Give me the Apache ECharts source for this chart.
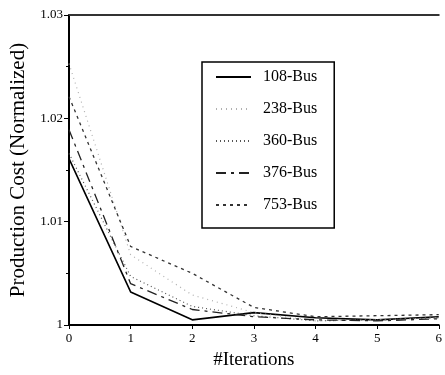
<!DOCTYPE html>
<html>
<head>
<meta charset="utf-8">
<script src="https://cdn.jsdelivr.net/npm/echarts@6/dist/echarts.min.js"></script>
<style>
  html, body { margin: 0; padding: 0; background: #fff; }
  #chart { width: 445px; height: 375px; }
</style>
</head>
<body>
<div id="chart"></div>
<script>
// values
var iterations = [0, 1, 2, 3, 4, 5, 6];
var bus108 = [1.0161, 1.0032, 1.0005, 1.0012, 1.0007, 1.0005, 1.0008];
var bus238 = [1.0253, 1.0068, 1.0029, 1.0012, 1.0004, 1.0005, 1.0007];
var bus360 = [1.0166, 1.0047, 1.0018, 1.0009, 1.0004, 1.0005, 1.0007];
var bus376 = [1.0189, 1.0040, 1.0015, 1.0008, 1.0005, 1.0004, 1.0006];
var bus753 = [1.0221, 1.0076, 1.0050, 1.0017, 1.0008, 1.0009, 1.0010];
var yTickLabels = ['1', '1.01', '1.02', '1.03'];
var xTickLabels = ['0', '1', '2', '3', '4', '5', '6'];

var serif = 'Liberation Serif';

function pairs(ys) {
	var out = [];
	for (var i = 0; i < iterations.length; i++) {
		out.push([iterations[i], ys[i]]);
	}
	return out;
}

function mkSeries(name, ys, color, width, dash) {
	return {
		name: name,
		type: 'line',
		data: pairs(ys),
		symbol: 'none',
		smooth: false,
		lineStyle: { color: color, width: width, type: dash },
		itemStyle: { color: color }
	};
}

var myChart = echarts.init(document.getElementById('chart'));

var option = {
	animation: false,
	backgroundColor: '#fff',
	grid: { left: 69, right: 0, top: 15, bottom: 48 },
	legend: {
		orient: 'vertical',
		left: 202,
		top: 62,
		padding: [7, 17, 15, 13],
		itemWidth: 35,
		itemHeight: 16,
		itemGap: 16,
		borderColor: '#000',
		borderWidth: 1.5,
		itemStyle: { opacity: 0 },
		textStyle: { fontFamily: serif, fontSize: 16, color: '#000', padding: [0, 0, 0, 7] },
		data: ['108-Bus', '238-Bus', '360-Bus', '376-Bus', '753-Bus']
	},
	xAxis: [
		{
			type: 'value',
			min: 0,
			max: 6,
			interval: 1,
			name: '#Iterations',
			nameLocation: 'middle',
			nameGap: 26,
			nameTextStyle: { fontFamily: serif, fontSize: 19, color: '#000' },
			axisLine: { lineStyle: { color: '#000', width: 2 } },
			axisTick: { length: 4, lineStyle: { color: '#000' } },
			axisLabel: {
				fontFamily: serif, fontSize: 13, color: '#000', margin: 7,
				formatter: function (v) { return xTickLabels[Math.round(v)]; }
			},
			splitLine: { show: false }
		},
		{
			type: 'value',
			position: 'top',
			min: 0,
			max: 6,
			axisLine: { show: true, lineStyle: { color: '#333', width: 2 } },
			axisTick: { show: false },
			axisLabel: { show: false },
			splitLine: { show: false }
		}
	],
	yAxis: {
		type: 'value',
		min: 1,
		max: 1.03,
		interval: 0.01,
		name: 'Production Cost (Normalized)',
		nameLocation: 'middle',
		nameGap: 39,
		nameTextStyle: { fontFamily: serif, fontSize: 21, color: '#000' },
		axisLine: { show: true, lineStyle: { color: '#000', width: 2 } },
		axisTick: { show: true, length: 5, lineStyle: { color: '#000' } },
		minorTick: { show: true, splitNumber: 2, length: 3, lineStyle: { color: '#000' } },
		axisLabel: {
			fontFamily: serif, fontSize: 13, color: '#000', margin: 6,
			formatter: function (v) { return yTickLabels[Math.round((v - 1) / 0.01)]; }
		},
		splitLine: { show: false }
	},
	series: [
		mkSeries('108-Bus', bus108, '#000', 1.6, 'solid'),
		mkSeries('238-Bus', bus238, '#b0b0b0', 1.2, [1, 4]),
		mkSeries('360-Bus', bus360, '#555', 1.2, [1, 3]),
		mkSeries('376-Bus', bus376, '#222', 1.3, [10, 5, 3, 5]),
		mkSeries('753-Bus', bus753, '#333', 1.3, [3, 4])
	]
};

myChart.setOption(option);
</script>
</body>
</html>
